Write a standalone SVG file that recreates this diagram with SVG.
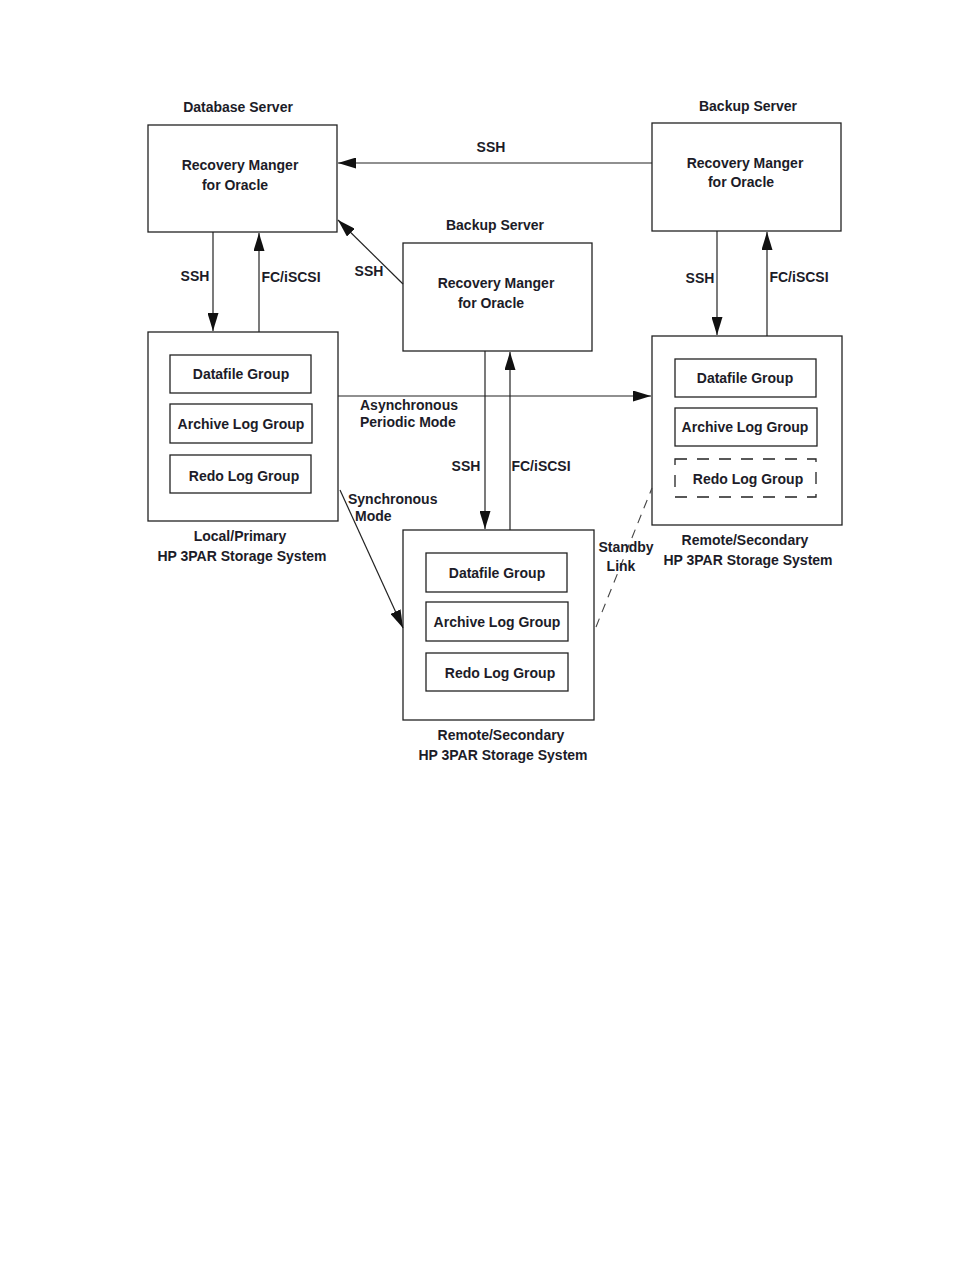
<svg xmlns="http://www.w3.org/2000/svg" width="954" height="1270" viewBox="0 0 954 1270">
<style>
text{font-family:"Liberation Sans",Arial,sans-serif;font-weight:bold;font-size:14px;fill:#1c1c28;text-anchor:middle}
.l{text-anchor:start}
.box{fill:none;stroke:#222;stroke-width:1.3}
.dash{fill:none;stroke:#222;stroke-width:1.3;stroke-dasharray:12 10}
.c{fill:none;stroke:#222;stroke-width:1.2}
.cd{fill:none;stroke:#444;stroke-width:1.1;stroke-dasharray:9 7}
</style>
<defs>
<marker id="ah" viewBox="0 0 18 11" refX="18" refY="5.5" markerWidth="18" markerHeight="11" markerUnits="userSpaceOnUse" orient="auto">
<path d="M0,0 L18,5.5 L0,11 Z" fill="#111"/>
</marker>
</defs>
<rect width="954" height="1270" fill="#fff"/>

<g id="db-server">
<text x="238" y="112">Database Server</text>
<rect class="box" x="148" y="125" width="189" height="107"/>
<text x="240" y="170">Recovery Manger</text>
<text x="235" y="190">for Oracle</text>
</g>

<g id="backup-server-right">
<text x="748" y="111">Backup Server</text>
<rect class="box" x="652" y="123" width="189" height="108"/>
<text x="745" y="168">Recovery Manger</text>
<text x="741" y="187">for Oracle</text>
</g>

<g id="backup-server-mid">
<text x="495" y="230">Backup Server</text>
<rect class="box" x="403" y="243" width="189" height="108"/>
<text x="496" y="288">Recovery Manger</text>
<text x="491" y="308">for Oracle</text>
</g>

<g id="local-storage">
<rect class="box" x="148" y="332" width="190" height="189"/>
<rect class="box" x="170" y="355" width="141" height="38"/>
<text x="241" y="379">Datafile Group</text>
<rect class="box" x="170" y="404" width="142" height="39"/>
<text x="241" y="429">Archive Log Group</text>
<rect class="box" x="170" y="455" width="141" height="38"/>
<text x="244" y="481">Redo Log Group</text>
<text x="240" y="541">Local/Primary</text>
<text x="242" y="561">HP 3PAR Storage System</text>
</g>

<g id="remote-storage-right">
<rect class="box" x="652" y="336" width="190" height="189"/>
<rect class="box" x="675" y="359" width="141" height="38"/>
<text x="745" y="383">Datafile Group</text>
<rect class="box" x="675" y="408" width="142" height="38"/>
<text x="745" y="432">Archive Log Group</text>
<rect class="dash" x="675" y="459" width="141" height="38"/>
<text x="748" y="484">Redo Log Group</text>
<text x="745" y="545">Remote/Secondary</text>
<text x="748" y="565">HP 3PAR Storage System</text>
</g>

<g id="remote-storage-mid">
<rect class="box" x="403" y="530" width="191" height="190"/>
<rect class="box" x="426" y="553" width="141" height="39"/>
<text x="497" y="578">Datafile Group</text>
<rect class="box" x="426" y="602" width="142" height="39"/>
<text x="497" y="627">Archive Log Group</text>
<rect class="box" x="426" y="653" width="142" height="38"/>
<text x="500" y="678">Redo Log Group</text>
<text x="501" y="740">Remote/Secondary</text>
<text x="503" y="760">HP 3PAR Storage System</text>
</g>

<g id="connectors">
<line class="c" x1="652" y1="163" x2="338" y2="163" marker-end="url(#ah)"/>
<text x="491" y="152">SSH</text>
<line class="c" x1="213" y1="232" x2="213" y2="331" marker-end="url(#ah)"/>
<text x="195" y="281">SSH</text>
<line class="c" x1="259" y1="332" x2="259" y2="233" marker-end="url(#ah)"/>
<text x="291" y="282">FC/iSCSI</text>
<line class="c" x1="403" y1="284" x2="338" y2="220" marker-end="url(#ah)"/>
<text x="369" y="276">SSH</text>
<line class="c" x1="717" y1="231" x2="717" y2="335" marker-end="url(#ah)"/>
<text x="700" y="283">SSH</text>
<line class="c" x1="767" y1="336" x2="767" y2="232" marker-end="url(#ah)"/>
<text x="799" y="282">FC/iSCSI</text>
<line class="c" x1="338" y1="396" x2="651" y2="396" marker-end="url(#ah)"/>
<text class="l" x="360" y="410">Asynchronous</text>
<text class="l" x="360" y="427">Periodic Mode</text>
<line class="c" x1="485" y1="351" x2="485" y2="529" marker-end="url(#ah)"/>
<text x="466" y="471">SSH</text>
<line class="c" x1="510" y1="530" x2="510" y2="352" marker-end="url(#ah)"/>
<text x="541" y="471">FC/iSCSI</text>
<line class="c" x1="340" y1="490" x2="403" y2="628" marker-end="url(#ah)"/>
<text class="l" x="348" y="504">Synchronous</text>
<text class="l" x="355" y="521">Mode</text>
<line class="cd" x1="596" y1="627" x2="652" y2="488"/>
<text x="626" y="552">Standby</text>
<text x="621" y="571">Link</text>
</g>
</svg>
